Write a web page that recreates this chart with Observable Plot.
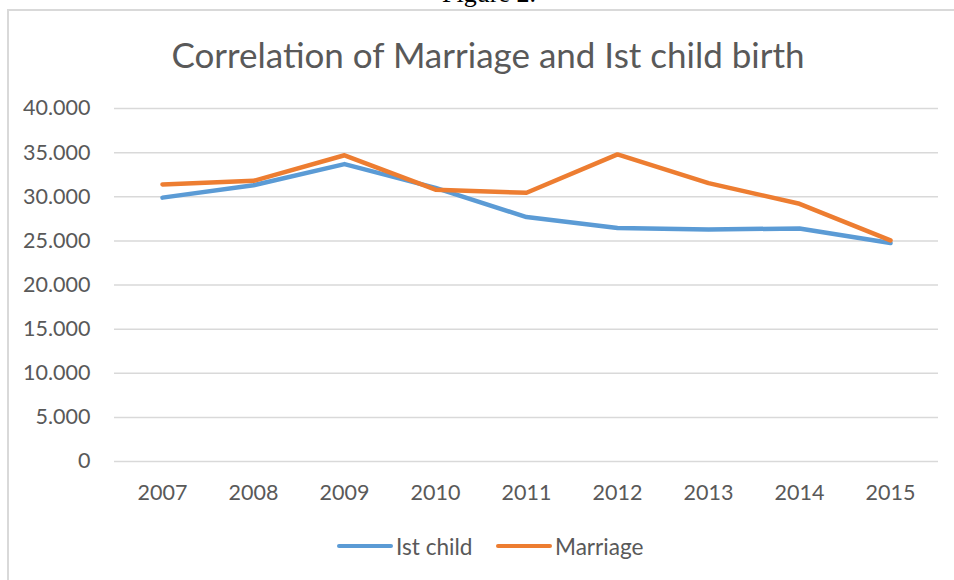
<!DOCTYPE html>
<html>
<head>
<meta charset="utf-8">
<script src="https://cdn.jsdelivr.net/npm/d3@7"></script>
<script src="https://cdn.jsdelivr.net/npm/@observablehq/plot@0.6"></script>
<style>
  html, body { margin: 0; padding: 0; background: #fff; overflow: hidden; }
  #page { position: relative; width: 954px; height: 580px; overflow: hidden; font-family: Lato, "Open Sans", sans-serif; }
  #fig { position: absolute; left: 0; width: 978px; top: -19px; text-align: center; font-family: "Liberation Serif", "Times New Roman", serif; font-size: 26px; line-height: 26px; color: #000; }
  #box { position: absolute; left: 7px; top: 9px; width: 960px; height: 600px; border-left: 2px solid #d9d9d9; border-top: 2px solid #d9d9d9; }
  #title { position: absolute; left: 0; width: 976px; top: 32px; text-align: center; font-size: 35px; line-height: 44px; color: #595959; }
  #chart { position: absolute; left: 0; top: 85px; }
  #legend { position: absolute; left: 0; top: 532px; width: 954px; height: 28px; }
  .item { position: absolute; top: 0; display: flex; align-items: center; height: 28px; font-size: 22.6px; color: #595959; }
  .sw { display: inline-block; width: 56px; height: 4.5px; border-radius: 3px; margin-right: 3px; }
</style>
</head>
<body>
<div id="page">
  <div id="fig">Figure 2.</div>
  <div id="box"></div>
  <div id="title">Correlation of Marriage and Ist child birth</div>
  <div id="chart"></div>
  <div id="legend">
    <div class="item" style="left:337px"><span class="sw" style="background:#5B9BD5"></span>Ist child</div>
    <div class="item" style="left:496px"><span class="sw" style="background:#ED7D31"></span>Marriage</div>
  </div>
</div>
<script>
const years = ["2007", "2008", "2009", "2010", "2011", "2012", "2013", "2014", "2015"];
const firstChild = [29900, 31300, 33700, 31000, 27700, 26450, 26300, 26400, 24750];
const marriage = [31400, 31800, 34700, 30800, 30450, 34800, 31550, 29200, 25050];
const yTicks = [0, 5000, 10000, 15000, 20000, 25000, 30000, 35000, 40000];
const seriesNames = ["Ist child", "Marriage"];
const seriesColors = ["#5B9BD5", "#ED7D31"];

const rows = [
  ...years.map((y, i) => ({year: y, value: firstChild[i], series: seriesNames[0]})),
  ...years.map((y, i) => ({year: y, value: marriage[i], series: seriesNames[1]}))
];

const locale = d3.formatLocale({decimal: ",", thousands: ".", grouping: [3], currency: ["", ""]});
const fmt = locale.format(",d");

const plot = Plot.plot({
  width: 954,
  height: 435,
  marginLeft: 114,
  marginRight: 16,
  marginTop: 23,
  marginBottom: 59,
  style: {fontFamily: "Lato, 'Open Sans', sans-serif", fontSize: "21.5px", color: "#595959", background: "transparent"},
  x: {type: "point", domain: years, padding: 0.5, label: null},
  y: {domain: [0, 40000], label: null},
  color: {domain: seriesNames, range: seriesColors},
  marks: [
    Plot.ruleY(yTicks, {stroke: "#d9d9d9", strokeWidth: 1.5}),
    Plot.axisY({ticks: yTicks, tickSize: 0, tickPadding: 24, tickFormat: d => d === 0 ? "0" : fmt(d), label: null, fill: "#595959"}),
    Plot.axisX({tickSize: 0, tickPadding: 23, label: null, fill: "#595959"}),
    Plot.line(rows, {x: "year", y: "value", stroke: "series", strokeWidth: 4.5, strokeLinecap: "round", strokeLinejoin: "round"})
  ]
});
document.getElementById("chart").appendChild(plot);
</script>
</body>
</html>
